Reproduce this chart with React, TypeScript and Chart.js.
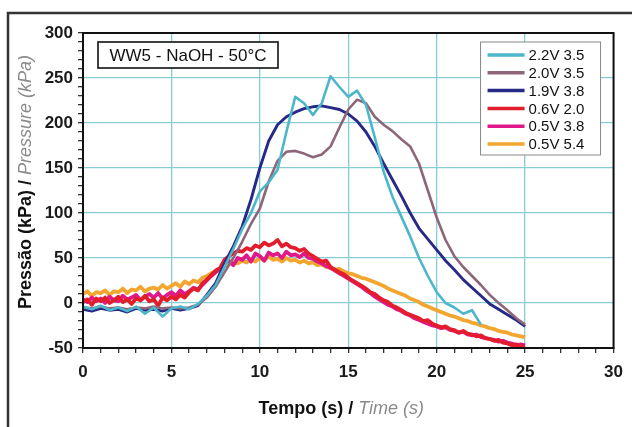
import React, { useEffect, useRef } from 'react';
import { Chart, registerables } from 'chart.js';

Chart.register(...registerables);

// ---------- data ----------
const TITLE_BOX = 'WW5 - NaOH - 50°C';
const X_TITLE_MAIN = 'Tempo (s) / ';
const X_TITLE_EN = 'Time (s)';
const Y_TITLE_MAIN = 'Pressão (kPa) / ';
const Y_TITLE_EN = 'Pressure (kPa)';

const X_MIN = 0, X_MAX = 30, X_MAJOR = 5, X_MINOR = 1;
const Y_MIN = -50, Y_MAX = 300, Y_MAJOR = 50, Y_MINOR = 10;

const SERIES_LABELS = ['2.2V 3.5', '2.0V 3.5', '1.9V 3.8', '0.6V 2.0', '0.5V 3.8', '0.5V 5.4'];
const SERIES_COLORS = ['#4cb6cb', '#8d6679', '#262a86', '#e31d2c', '#e0198a', '#f2a630'];

// time grids (s)
const TIME_COARSE = Array.from({ length: 51 }, (_, i) => i * 0.5);   // 0 .. 25 step 0.5
const TIME_FINE = Array.from({ length: 101 }, (_, i) => i * 0.25);   // 0 .. 25 step 0.25

// pressure (kPa), on TIME_COARSE
const P_22V = [
  -4, -7, -3, -8, -5, -9, -4, -12, -5, -15,
  -6, -4, -7, -1, 8, 20, 40, 60, 82, 100,
  124, 134, 148, 190, 229, 222, 209, 222, 252, 240,
  229, 236, 220, 184, 146, 118, 96, 74, 50, 30,
  12, 0, -5, -12, -8, -24,
];
const P_20V = [
  -5, -6, -4, -6, -5, -7, -5, -6, -4, -6,
  -5, -6, -5, -2, 6, 18, 34, 50, 68, 88,
  105, 135, 158, 168, 169, 166, 162, 165, 174, 195,
  215, 226, 222, 207, 198, 191, 182, 174, 155, 125,
  95, 70, 52, 40, 30, 20, 9, 0, -8, -17,
  -24,
];
const P_19V = [
  -7, -9, -6, -8, -7, -10, -6, -8, -7, -9,
  -6, -8, -6, -3, 9, 22, 44, 63, 85, 115,
  150, 180, 198, 207, 212, 216, 218, 219, 217, 215,
  210, 202, 190, 174, 155, 137, 119, 100, 83, 71,
  59, 47, 37, 26, 17, 8, -1, -7, -13, -19,
  -26,
];
// pressure (kPa), on TIME_FINE
const P_06V = [
  1, 4, -2, 5, 2, 6, 0, 3, 7, 1, 4, -1, 5, 3, 8, 2, 4, -3, 6, 3,
  7, 4, 9, 6, 12, 16, 14, 22, 26, 31, 36, 39, 48, 52, 55, 58, 57, 61, 59, 64,
  62, 67, 64, 66, 70, 63, 66, 62, 61, 58, 60, 55, 52, 49, 46, 47, 40, 37, 34, 32,
  28, 25, 22, 19, 16, 12, 10, 6, 3, 1, -3, -5, -8, -11, -13, -15, -17, -20, -19, -23,
  -25, -27, -26, -29, -30, -33, -31, -34, -35, -37, -36, -39, -40, -42, -41, -44, -45, -47, -46, -49,
  -48,
];
const P_05V38 = [
  4, 1, 6, 2, 5, 0, 7, 3, 2, 8, 4, 6, 9, 3, 7, 10, 6, 11, 5, 9,
  12, 8, 14, 10, 13, 17, 15, 20, 25, 30, 34, 38, 44, 47, 42, 50, 48, 53, 46, 55,
  52, 47, 56, 53, 55, 50, 57, 53, 54, 51, 55, 50, 49, 46, 44, 41, 39, 36, 33, 30,
  27, 24, 21, 18, 14, 11, 7, 4, 1, -2, -4, -7, -9, -12, -14, -17, -19, -21, -23, -25,
  -26, -28, -27, -30, -31, -33, -32, -35, -36, -35, -38, -39, -40, -41, -43, -42, -44, -45, -47, -46,
  -47,
];
const P_05V54 = [
  10, 13, 8, 12, 11, 14, 9, 13, 12, 16, 11, 15, 14, 18, 13, 16, 17, 15, 20, 16,
  19, 22, 18, 24, 21, 25, 23, 28, 30, 33, 35, 38, 41, 43, 45, 44, 47, 45, 49, 46,
  50, 47, 52, 48, 49, 46, 50, 47, 48, 45, 47, 44, 45, 42, 43, 40, 39, 37, 38, 35,
  33, 32, 30, 28, 27, 25, 23, 21, 19, 16, 14, 12, 10, 8, 5, 3, 1, -2, -4, -6,
  -8, -10, -12, -14, -15, -17, -19, -20, -22, -23, -25, -26, -28, -29, -31, -32, -33, -35, -36, -37,
  -38,
];

const SERIES_VALUES = [P_22V, P_20V, P_19V, P_06V, P_05V38, P_05V54];
const SERIES_TIMES = [TIME_COARSE, TIME_COARSE, TIME_COARSE, TIME_FINE, TIME_FINE, TIME_FINE];
const SERIES_WIDTHS = [2.6, 2.6, 2.9, 3.8, 3.8, 3.8];

// ---------- styles ----------
const FONT = '"Liberation Sans", Arial, Helvetica, sans-serif';
const GRID = '#86cdd6';

const decorPlugin = {
  id: 'decor',
  beforeDraw(chart: any) {
    const ctx = chart.ctx;
    ctx.save();
    ctx.fillStyle = '#ffffff';
    ctx.fillRect(0, 0, chart.width, chart.height);
    ctx.restore();
  },
  afterDraw(chart: any) {
    const ctx = chart.ctx as CanvasRenderingContext2D;
    const a = chart.chartArea;
    ctx.save();

    // outer frame (partially off-canvas)
    ctx.strokeStyle = '#333';
    ctx.lineWidth = 2.5;
    ctx.beginPath();
    ctx.moveTo(8, chart.height + 5);
    ctx.lineTo(8, 13);
    ctx.lineTo(chart.width + 5, 13);
    ctx.stroke();

    // plot frame
    ctx.strokeStyle = '#111';
    ctx.lineWidth = 2;
    ctx.strokeRect(a.left, a.top, a.right - a.left, a.bottom - a.top);

    // title box
    const tbx = a.left + 15, tby = a.top + 9, tbw = 180, tbh = 26;
    ctx.fillStyle = '#fff';
    ctx.fillRect(tbx, tby, tbw, tbh);
    ctx.strokeStyle = '#111';
    ctx.lineWidth = 1.6;
    ctx.strokeRect(tbx, tby, tbw, tbh);
    ctx.fillStyle = '#111';
    ctx.font = `17px ${FONT}`;
    ctx.textAlign = 'center';
    ctx.textBaseline = 'middle';
    ctx.fillText(TITLE_BOX, tbx + tbw / 2, tby + tbh / 2 + 1);

    // legend
    const lx = a.right - 133, ly = a.top + 9, lw = 120, lh = 113;
    ctx.fillStyle = '#fff';
    ctx.fillRect(lx, ly, lw, lh);
    ctx.strokeStyle = '#888';
    ctx.lineWidth = 1;
    ctx.strokeRect(lx, ly, lw, lh);
    ctx.font = `15px ${FONT}`;
    ctx.textAlign = 'left';
    ctx.textBaseline = 'middle';
    SERIES_LABELS.forEach((lab, i) => {
      const yy = ly + 13 + i * 17.8;
      ctx.strokeStyle = SERIES_COLORS[i];
      ctx.lineWidth = 3.5;
      ctx.beginPath();
      ctx.moveTo(lx + 7, yy);
      ctx.lineTo(lx + 44, yy);
      ctx.stroke();
      ctx.fillStyle = '#111';
      ctx.fillText(lab, lx + 48, yy + 1);
    });

    // x axis title
    ctx.textBaseline = 'middle';
    ctx.textAlign = 'left';
    ctx.font = `bold 18px ${FONT}`;
    const w1 = ctx.measureText(X_TITLE_MAIN).width;
    ctx.font = `italic 18px ${FONT}`;
    const w2 = ctx.measureText(X_TITLE_EN).width;
    const sx = (a.left + a.right) / 2 - 7 - (w1 + w2) / 2;
    const sy = 409;
    ctx.font = `bold 18px ${FONT}`;
    ctx.fillStyle = '#111';
    ctx.fillText(X_TITLE_MAIN, sx, sy);
    ctx.font = `italic 18px ${FONT}`;
    ctx.fillStyle = '#8a8a8a';
    ctx.fillText(X_TITLE_EN, sx + w1, sy);

    // y axis title (rotated)
    ctx.save();
    ctx.translate(26, 182);
    ctx.rotate(-Math.PI / 2);
    ctx.font = `bold 18px ${FONT}`;
    const v1 = ctx.measureText(Y_TITLE_MAIN).width;
    ctx.font = `italic 18px ${FONT}`;
    const v2 = ctx.measureText(Y_TITLE_EN).width;
    const vx = -(v1 + v2) / 2;
    ctx.font = `bold 18px ${FONT}`;
    ctx.fillStyle = '#111';
    ctx.fillText(Y_TITLE_MAIN, vx, 0);
    ctx.font = `italic 18px ${FONT}`;
    ctx.fillStyle = '#8a8a8a';
    ctx.fillText(Y_TITLE_EN, vx + v1, 0);
    ctx.restore();

    ctx.restore();
  },
};

export default function App() {
  const ref = useRef<HTMLCanvasElement>(null);
  useEffect(() => {
    document.body.style.margin = '0';
    const datasets = SERIES_LABELS.map((label, i) => ({
      label,
      data: SERIES_VALUES[i].map((v, j) => ({ x: SERIES_TIMES[i][j], y: v })),
      borderColor: SERIES_COLORS[i],
      backgroundColor: SERIES_COLORS[i],
      borderWidth: SERIES_WIDTHS[i],
      pointRadius: 0,
      tension: 0,
      borderJoinStyle: 'round' as const,
      fill: false,
    }));
    const chart = new Chart(ref.current!, {
      type: 'line',
      data: { datasets },
      plugins: [decorPlugin],
      options: {
        responsive: false,
        animation: false,
        devicePixelRatio: 1,
        layout: { padding: { top: 33, right: 10, left: 0, bottom: 0 } },
        plugins: { legend: { display: false }, tooltip: { enabled: false } },
        scales: {
          x: {
            type: 'linear',
            min: X_MIN,
            max: X_MAX,
            afterFit: (s: any) => { s.height = 79; },
            ticks: {
              stepSize: X_MINOR,
              autoSkip: false,
              maxRotation: 0,
              padding: 9,
              color: '#1a1a1a',
              font: { family: FONT, size: 17, weight: 'bold' },
              callback: (v: any) => (Number(v) % X_MAJOR === 0 ? String(v) : ''),
            },
            grid: {
              color: (c: any) => (c.tick && c.tick.value % X_MAJOR === 0 ? GRID : 'rgba(0,0,0,0)'),
              lineWidth: 1.3,
              tickColor: '#333',
              tickLength: 5,
            },
            border: { display: true, color: '#111', width: 2 },
          },
          y: {
            type: 'linear',
            min: Y_MIN,
            max: Y_MAX,
            afterFit: (s: any) => { s.width = 83; },
            ticks: {
              stepSize: Y_MINOR,
              autoSkip: false,
              padding: 5,
              color: '#1a1a1a',
              font: { family: FONT, size: 17, weight: 'bold' },
              callback: (v: any) => (Number(v) % Y_MAJOR === 0 ? String(v) : ''),
            },
            grid: {
              color: (c: any) => (c.tick && c.tick.value % Y_MAJOR === 0 ? GRID : 'rgba(0,0,0,0)'),
              lineWidth: 1.3,
              tickColor: '#333',
              tickLength: 5,
            },
            border: { display: true, color: '#111', width: 2 },
          },
        },
      },
    });
    return () => chart.destroy();
  }, []);
  return (
    <div style={{ width: 632, height: 427, overflow: 'hidden' }}>
      <canvas ref={ref} width={632} height={427} style={{ display: 'block' }} />
    </div>
  );
}
